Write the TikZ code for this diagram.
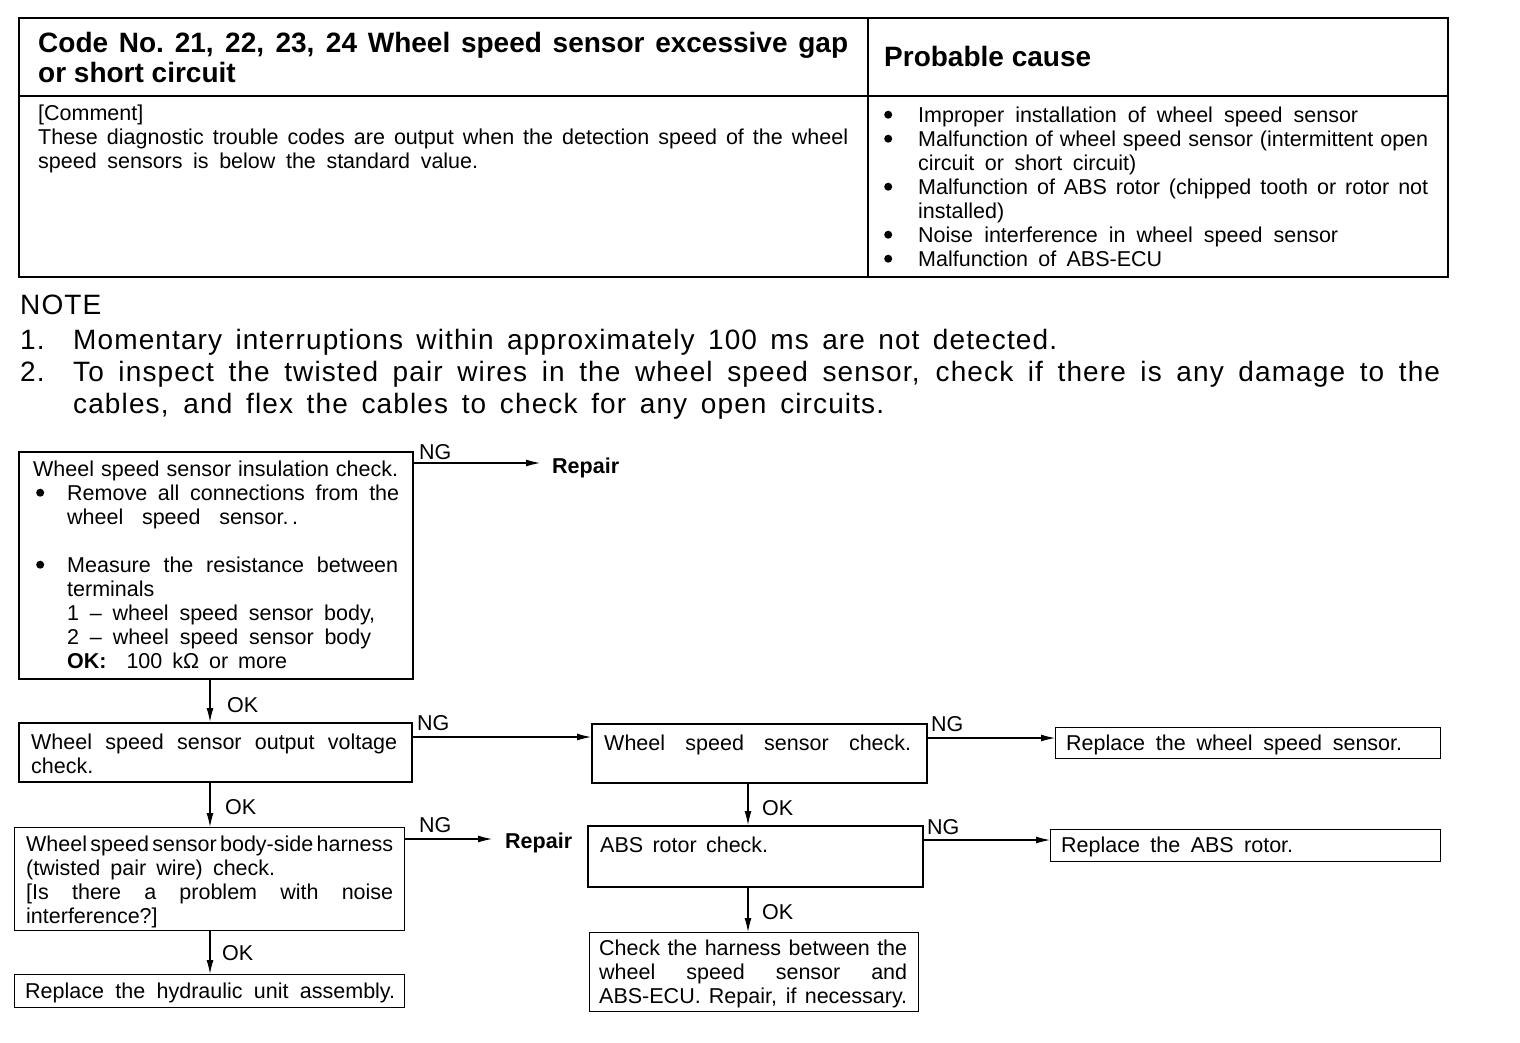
\documentclass[tikz,border=0pt]{standalone}
\usepackage{fontspec}
\setmainfont{Liberation Sans}
\usetikzlibrary{arrows.meta,calc}
\newcommand\fb{\fontsize{21.5}{24}\selectfont}
\newcommand\fh{\fontsize{28}{28}\selectfont\bfseries}
\newcommand\fn{\fontsize{28}{32}\selectfont\addfontfeature{LetterSpace=4}}
\newcommand\jl[2]{\makebox[#1pt][s]{\strut #2}}
\newcommand\dotb{\tikz[baseline=0pt]\fill (0pt,0pt) ++(4pt,7.5pt) circle[radius=4pt];}
\newcommand\tb[1][0pt]{\makebox[34pt][l]{\strut\hspace*{#1}\dotb}}
\begin{document}
\begin{tikzpicture}[x=1pt,y=-1pt,
  txt/.style={inner sep=0pt, anchor=north west, align=left, font=\fb},
  lbl/.style={inner sep=0pt, anchor=base west, font=\fb},
  thick box/.style={draw, line width=2.2pt, inner sep=0pt, anchor=north west},
  thin box/.style={draw, line width=1.4pt, inner sep=0pt, anchor=north west},
  arr/.style={line width=1.1pt, -{Latex[length=14pt,width=7pt]}},
  rule/.style={line width=2pt}]
\fill[white] (0,0) rectangle (1520,1042);
\useasboundingbox (0,0) rectangle (1520,1042);

% ---------- table ----------
\draw[rule] (19,18) rectangle (1448,277);
\draw[rule] (868,18) -- (868,277);
\draw[rule] (19,96) -- (1448,96);

\node[txt, font=\fh] (hd) at (38,32.4)
  {\jl{810}{Code No.\ 21, 22, 23, 24 Wheel speed sensor excessive gap}\\ \strut or short circuit};
\node[txt, font=\fh] (pc) at (884,46.4) {\strut Probable cause};

\node[txt] (cm) at (38,103.2)
  {\strut [Comment]\\
   \jl{810}{These diagnostic trouble codes are output when the detection speed of the wheel}\\
   \jl{440}{speed sensors is below the standard value.}};

\node[txt] (causes) at (884,105.2)
  {\tb\jl{440}{Improper installation of wheel speed sensor}\\
   \tb\jl{510}{Malfunction of wheel speed sensor (intermittent open}\\
   \hspace*{34pt}\jl{218}{circuit or short circuit)}\\
   \tb\jl{510}{Malfunction of ABS rotor (chipped tooth or rotor not}\\
   \hspace*{34pt}\strut installed)\\
   \tb\jl{420}{Noise interference in wheel speed sensor}\\
   \tb\jl{244}{Malfunction of ABS-ECU}};

% ---------- note ----------
\node[txt, font=\fn] (note) at (20,291.6) {\strut NOTE};
\node[txt, font=\fn] (notes) at (20,326.6)
  {\makebox[53pt][l]{\strut 1.}\jl{984}{Momentary interruptions within approximately 100 ms are not detected.}\\
   \makebox[53pt][l]{\strut 2.}\jl{1367}{To inspect the twisted pair wires in the wheel speed sensor, check if there is any damage to the}\\
   \hspace*{53pt}\jl{811}{cables, and flex the cables to check for any open circuits.}};

% ---------- flowchart boxes ----------
\node[thick box, minimum width=394pt, minimum height=227pt] (b1) at (18,451) {};
\node[thick box, minimum width=393pt, minimum height=59pt] (b2) at (18,722) {};
\node[thick box, minimum width=335pt, minimum height=59pt] (b3) at (591,723) {};
\node[thin box, minimum width=385pt, minimum height=31pt] (r1) at (1055,727) {};
\node[thick box, minimum width=335pt, minimum height=61pt] (b4) at (587,825) {};
\node[thin box, minimum width=390pt, minimum height=32pt] (r2) at (1050,829) {};
\node[thin box, minimum width=329pt, minimum height=79pt] (b5) at (589,932) {};
\node[thin box, minimum width=390pt, minimum height=103pt] (b6) at (14,827) {};
\node[thin box, minimum width=390pt, minimum height=33pt] (b7) at (14,974) {};

% ---------- box texts ----------
\node[txt] (b1t) at (33,459.2)
  {\jl{365}{Wheel speed sensor insulation check.}\\
   \tb[3pt]\jl{332}{Remove all connections from the}\\
   \hspace*{34pt}\jl{231}{wheel speed \mbox{sensor.\,.}}\\
   \strut\\
   \tb[3pt]\jl{331}{Measure the resistance between}\\
   \hspace*{34pt}\strut terminals\\
   \hspace*{34pt}\jl{308}{1 -- wheel speed sensor body,}\\
   \hspace*{34pt}\jl{304}{2 -- wheel speed sensor body}\\
   \hspace*{34pt}\jl{220}{\textbf{OK:}\ \ 100 kΩ or more}};

\node[txt] (b2t) at (31,732.2)
  {\jl{366}{Wheel speed sensor output voltage}\\ \strut check.};
\node[txt] (b3t) at (604,733.2) {\jl{307}{Wheel speed sensor check.}};
\node[txt] (r1t) at (1066,733.2) {\jl{336}{Replace the wheel speed sensor.}};
\node[txt] (b4t) at (600,835.2) {\jl{168}{ABS rotor check.}};
\node[txt] (r2t) at (1061,835.2) {\jl{232}{Replace the ABS rotor.}};
\node[txt] (b5t) at (599,938.2)
  {\jl{308}{Check the harness between the}\\
   \jl{308}{wheel speed sensor and}\\
   \jl{308}{ABS-ECU. Repair, if necessary.}};
\node[txt] (b6t) at (26,834.2)
  {\jl{367}{\spaceskip=1pt plus 20pt minus 1pt Wheel speed sensor body-side harness}\\
   \jl{249}{(twisted pair wire) check.}\\
   \jl{367}{[Is there a problem with noise}\\
   \strut interference?]};
\node[txt] (b7t) at (25,981.2) {\jl{370}{Replace the hydraulic unit assembly.}};

% ---------- repair targets ----------
\node[lbl, font=\fb\bfseries] (rep1) at (552,473) {Repair};
\node[lbl, font=\fb\bfseries] (rep2) at (505,848) {Repair};

% ---------- connectors ----------
\coordinate (s1) at ($(b1.north east)+(0,12)$);
\draw[arr, shorten >=12pt] (s1) -- (s1 -| rep1.west);
\coordinate (s2) at ($(b1.south west)+(192,0)$);
\draw[arr] (s2) -- (s2 |- b2.north);
\coordinate (s3) at ($(b2.north east)+(0,15)$);
\draw[arr] (s3) -- (s3 -| b3.west);
\coordinate (s4) at ($(b3.north east)+(0,15)$);
\draw[arr] (s4) -- (s4 -| r1.west);
\coordinate (s5) at ($(b3.south west)+(157,0)$);
\draw[arr] (s5) -- (s5 |- b4.north);
\coordinate (s6) at ($(b4.north east)+(0,15)$);
\draw[arr] (s6) -- (s6 -| r2.west);
\coordinate (s7) at ($(b4.south west)+(161,0)$);
\draw[arr] (s7) -- (s7 |- b5.north);
\coordinate (s8) at ($(b2.south west)+(192,0)$);
\draw[arr] (s8) -- (s8 |- b6.north);
\coordinate (s9) at ($(b6.north east)+(0,12)$);
\draw[arr, shorten >=13pt] (s9) -- (s9 -| rep2.west);
\coordinate (s10) at ($(b6.south west)+(196,0)$);
\draw[arr] (s10) -- (s10 |- b7.north);

% ---------- NG / OK labels ----------
\node[lbl] (ng1) at (419,459) {NG};
\node[lbl] (ok1) at (227,712) {OK};
\node[lbl] (ng2) at (417,730) {NG};
\node[lbl] (ng3) at (931,731) {NG};
\node[lbl] (ok2) at (762,815) {OK};
\node[lbl] (ng4) at (927,834) {NG};
\node[lbl] (ok3) at (762,919) {OK};
\node[lbl] (ok4) at (225,814) {OK};
\node[lbl] (ng5) at (419,832) {NG};
\node[lbl] (ok5) at (222,960) {OK};
\end{tikzpicture}
\end{document}
